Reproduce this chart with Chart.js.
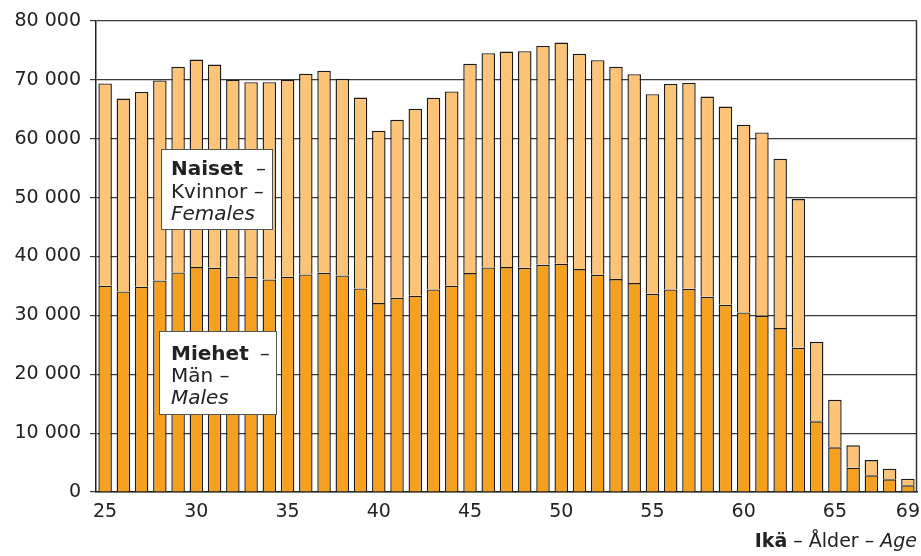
<!DOCTYPE html>
<html>
<head>
<meta charset="utf-8">
<script src="https://cdn.jsdelivr.net/npm/chart.js@4/dist/chart.umd.min.js"></script>
<style>
  html, body { margin: 0; padding: 0; background: #ffffff; }
  #wrap { width: 921px; height: 556px; }
</style>
</head>
<body>
<div id="wrap"><canvas id="c" width="921" height="556"></canvas></div>
<script>
// ---- Data ----
const ages = [25,26,27,28,29,30,31,32,33,34,35,36,37,38,39,40,41,42,43,44,45,46,47,48,49,50,51,52,53,54,55,56,57,58,59,60,61,62,63,64,65,66,67,68,69];
const males = [35030,34070,34860,35940,37300,38200,38090,36560,36560,36110,36560,36960,37240,36790,34580,
               32090,32990,33330,34410,35030,37180,38150,38200,38090,38600,38770,37860,36900,36160,35480,
               33670,34410,34520,33160,31800,30500,29940,27840,24500,12000,7590,4130,2830,2150,1130];
const females = [34360,32770,33100,33960,34910,35260,34520,33440,33050,33500,33440,34060,34290,33380,32430,
                 29250,30220,31750,32540,33000,35540,36380,36620,36780,37170,37570,36560,36440,36050,35490,
                 33900,34910,34970,34020,33680,31860,31130,28750,25250,13520,8080,3800,2600,1810,1130];
const xTickAges = [25,30,35,40,45,50,55,60,65,69];
const yTicks = [0,10000,20000,30000,40000,50000,60000,70000,80000];

const FONT = "'DejaVu Sans', sans-serif";
const fmt = v => String(v).replace(/\B(?=(\d{3})+(?!\d))/g, ' ');

const overlay = {
  id: 'overlay',
  afterDatasetsDraw(chart) {
    const ctx = chart.ctx, a = chart.chartArea;
    ctx.save();
    // right frame line
    ctx.strokeStyle = '#333';
    ctx.lineWidth = 1.5;
    ctx.beginPath();
    ctx.moveTo(a.right - 0.5, a.top);
    ctx.lineTo(a.right - 0.5, a.bottom);
    ctx.stroke();

    function box(x, y, w, h, lines) {
      ctx.fillStyle = '#ffffff';
      ctx.fillRect(x, y, w, h);
      ctx.strokeStyle = '#555';
      ctx.lineWidth = 1;
      ctx.strokeRect(x + 0.5, y + 0.5, w, h);
      ctx.fillStyle = '#222';
      ctx.textBaseline = 'alphabetic';
      ctx.textAlign = 'left';
      lines.forEach(l => {
        let cx = x + l.dx;
        l.parts.forEach(p => {
          ctx.font = p.f + ' 20px ' + FONT;
          ctx.fillText(p.t, cx, y + l.dy);
          cx += ctx.measureText(p.t).width + (p.gap || 0);
        });
      });
    }
    const x0 = a.left, y0 = a.top;
    box(x0 + 65, y0 + 128, 111, 80, [
      {dx: 10, dy: 26, parts: [{t: 'Naiset', f: 'bold', gap: 13}, {t: '–', f: 'normal'}]},
      {dx: 10, dy: 49, parts: [{t: 'Kvinnor –', f: 'normal'}]},
      {dx: 10, dy: 71, parts: [{t: 'Females', f: 'italic'}]}
    ]);
    box(x0 + 63, y0 + 310, 117, 83, [
      {dx: 12, dy: 29, parts: [{t: 'Miehet', f: 'bold', gap: 11}, {t: '–', f: 'normal'}]},
      {dx: 12, dy: 51, parts: [{t: 'Män –', f: 'normal'}]},
      {dx: 12, dy: 73, parts: [{t: 'Males', f: 'italic'}]}
    ]);

    // x axis title, right aligned
    const parts = [
      {t: 'Ikä', f: 'bold'}, {t: ' – Ålder – ', f: 'normal'}, {t: 'Age', f: 'italic'}
    ];
    let total = 0;
    parts.forEach(p => { ctx.font = p.f + ' 19px ' + FONT; p.w = ctx.measureText(p.t).width; total += p.w; });
    let cx = a.right - total;
    ctx.fillStyle = '#222';
    parts.forEach(p => { ctx.font = p.f + ' 19px ' + FONT; ctx.fillText(p.t, cx, 547); cx += p.w; });
    ctx.restore();
  }
};

new Chart(document.getElementById('c'), {
  type: 'bar',
  data: {
    labels: ages.map(String),
    datasets: [
      { label: 'Miehet – Män – Males', data: males, backgroundColor: '#F6A01F',
        borderColor: '#1a1a1a', borderWidth: 1.4, categoryPercentage: 1, barPercentage: 0.74 },
      { label: 'Naiset – Kvinnor – Females', data: females, backgroundColor: '#FDC377',
        borderColor: '#1a1a1a', borderWidth: 1.4, categoryPercentage: 1, barPercentage: 0.74 }
    ]
  },
  options: {
    responsive: false,
    animation: false,
    layout: { padding: { top: 21, right: 4, left: 0, bottom: 0 } },
    plugins: { legend: { display: false }, tooltip: { enabled: false } },
    scales: {
      x: {
        stacked: true,
        grid: { display: false, drawTicks: false },
        border: { display: true, color: '#222', width: 1.5 },
        ticks: {
          autoSkip: false, maxRotation: 0, padding: 9, color: '#222',
          font: { family: FONT, size: 19 },
          callback: function(v, i) { return xTickAges.includes(ages[i]) ? String(ages[i]) : ''; }
        },
        afterFit: s => { s.height = 64; s.paddingRight = 0; s.paddingLeft = 0; }
      },
      y: {
        stacked: true, min: 0, max: 80000,
        afterBuildTicks: s => { s.ticks = yTicks.map(v => ({ value: v })); },
        grid: { color: '#3a3a3a', lineWidth: 1.2, tickLength: 6, drawTicks: true },
        border: { display: true, color: '#222', width: 1.5 },
        ticks: { padding: 9, color: '#222', font: { family: FONT, size: 19 }, callback: v => fmt(v) },
        afterFit: s => { s.width = 96; s.paddingTop = 0; s.paddingBottom = 0; }
      }
    }
  },
  plugins: [overlay]
});
</script>
</body>
</html>
